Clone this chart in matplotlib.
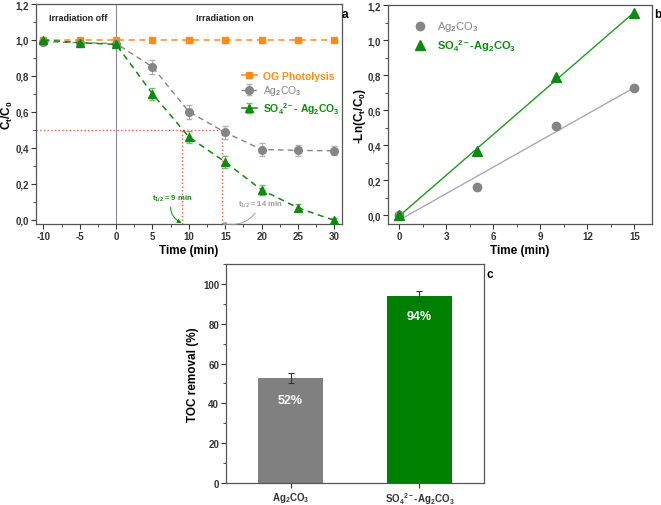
import matplotlib
matplotlib.use("Agg")
import matplotlib.pyplot as plt
import numpy as np
from matplotlib.ticker import MultipleLocator, FuncFormatter

plt.rcParams['font.family'] = ['Liberation Sans', 'DejaVu Sans']
plt.rcParams['font.size'] = 7
plt.rcParams['font.weight'] = 'bold'
plt.rcParams['axes.unicode_minus'] = False
plt.rcParams['mathtext.fontset'] = 'custom'
plt.rcParams['mathtext.rm'] = 'Liberation Sans'
plt.rcParams['mathtext.bf'] = 'Liberation Sans:bold'
plt.rcParams['mathtext.it'] = 'Liberation Sans:italic'
plt.rcParams['mathtext.default'] = 'bf'

# ---------- data ----------
time_a = [-10, -5, 0, 5, 10, 15, 20, 25, 30]
og_photolysis = [1.0, 1.0, 1.0, 1.0, 1.0, 1.0, 1.0, 1.0, 1.0]
ag2co3 = [0.99, 0.985, 0.98, 0.85, 0.60, 0.485, 0.39, 0.385, 0.383]
ag2co3_err = [0.01, 0.01, 0.015, 0.04, 0.04, 0.035, 0.035, 0.03, 0.025]
so4_ag2co3 = [1.0, 0.985, 0.975, 0.70, 0.46, 0.32, 0.165, 0.065, -0.005]
so4_err = [0.01, 0.01, 0.015, 0.035, 0.035, 0.035, 0.03, 0.02, 0.015]
t_half_so4 = 9
t_half_ag = 14.5

time_b = [0, 5, 10, 15]
ln_ag2co3 = [0.0, 0.164, 0.512, 0.726]
ln_so4 = [0.0, 0.367, 0.789, 1.154]

toc_labels = [r"Ag$_2$CO$_3$", r"SO$_4$$^{2-}$-Ag$_2$CO$_3$"]
toc_values = [52.7, 93.9]
toc_err = [2.5, 2.7]
toc_text = ["52%", "94%"]

orange = '#ff8c1a'
gray = '#858585'
green = '#0f8a0f'
red = '#f0603a'

comma = FuncFormatter(lambda v, p: f"{v:.1f}".replace('.', ','))

fig = plt.figure(figsize=(6.61, 5.06), dpi=100)

def style(ax):
    for s in ax.spines.values():
        s.set_color('#555555')
        s.set_linewidth(0.9)
    ax.tick_params(which='both', direction='out', top=False, right=False, colors='#333333')
    ax.tick_params(which='major', length=3.5, width=0.8, labelsize=7, pad=1.5)
    ax.tick_params(which='minor', length=2, width=0.6)

# ---------- panel a ----------
axa = fig.add_axes([0.0545, 0.5553, 0.4625, 0.4347])
axa.axvline(0, color='#8a8a9a', lw=0.8, zorder=1)
axa.plot([-11, t_half_ag], [0.5, 0.5], ls=':', color=red, lw=1.0, zorder=1)
axa.plot([t_half_so4, t_half_so4], [-0.025, 0.5], ls=':', color=red, lw=1.0, zorder=1)
axa.plot([t_half_ag, t_half_ag], [-0.025, 0.5], ls=':', color=red, lw=1.0, zorder=1)

axa.plot(time_a, og_photolysis, ls='--', color=orange, marker='s', ms=5, lw=1.1,
         dashes=(4, 3), label='OG Photolysis', zorder=3)
axa.errorbar(time_a, ag2co3, yerr=ag2co3_err, ls='--', color=gray, marker='o', ms=5.5,
             lw=1.0, dashes=(4, 3), ecolor='#b0b0b0', elinewidth=0.8, capsize=2.5,
             label=r"Ag$_2$CO$_3$", zorder=3)
axa.errorbar(time_a, so4_ag2co3, yerr=so4_err, ls='--', color=green, marker='^', ms=6,
             lw=1.1, dashes=(4, 3), ecolor='#6cc06c', elinewidth=0.8, capsize=2.5,
             label=r"SO$_4$$^{2-}$- Ag$_2$CO$_3$", zorder=4)

axa.set_xlim(-11, 31)
axa.set_ylim(-0.025, 1.2)
axa.xaxis.set_major_locator(MultipleLocator(5))
axa.xaxis.set_minor_locator(MultipleLocator(2.5))
axa.yaxis.set_major_locator(MultipleLocator(0.2))
axa.yaxis.set_minor_locator(MultipleLocator(0.1))
axa.yaxis.set_major_formatter(comma)
axa.set_xlabel('Time (min)', fontsize=8.5, fontweight='bold', labelpad=2)
axa.set_ylabel(r"C$_t$/C$_0$", fontsize=8.5, fontweight='bold', ha='center', va='center')
axa.yaxis.set_label_coords(-0.095, 0.5)
axa.text(-5.2, 1.125, 'Irradiation off', ha='center', va='center', fontsize=6.5, fontweight='bold', color='#222222')
axa.text(15, 1.125, 'Irradiation on', ha='center', va='center', fontsize=6.5, fontweight='bold', color='#222222')
leg = axa.legend(loc='upper left', bbox_to_anchor=(0.64, 0.74), frameon=False, fontsize=7.5,
                 handlelength=1.6, handletextpad=0.5, labelspacing=0.25)
for t, c in zip(leg.get_texts(), [orange, gray, green]):
    t.set_color(c)
leg.get_texts()[1].set_fontweight('normal')
axa.annotate(r"t$_{1/2}$ = 9 min", xy=(t_half_so4, -0.02), xytext=(5.0, 0.11), fontsize=5.5,
             color=green, fontweight='bold',
             arrowprops=dict(arrowstyle='-|>', color=green, lw=0.7,
                             connectionstyle='arc3,rad=0.45', shrinkA=1, shrinkB=0,
                             mutation_scale=6))
axa.annotate(r"t$_{1/2}$ = 14 min", xy=(t_half_ag, -0.02), xytext=(16.8, 0.075), fontsize=5.5,
             color='#9a9a9a', fontweight='bold',
             arrowprops=dict(arrowstyle='-|>', color='#9a9a9a', lw=0.7,
                             connectionstyle='arc3,rad=-0.4', shrinkA=1, shrinkB=0,
                             mutation_scale=6))
style(axa)
fig.text(345/661, 1 - 15/506, 'a', fontsize=8.5, fontweight='bold', ha='center', va='center')

# ---------- panel b ----------
axb = fig.add_axes([0.587, 0.5553, 0.399, 0.4327])
tb = np.array(time_b, dtype=float)
p_ag = np.polyfit(tb, ln_ag2co3, 1)
p_so = np.polyfit(tb, ln_so4, 1)
xx = np.array([tb.min(), tb.max()])
axb.plot(xx, np.polyval(p_ag, xx), color='#a8a8b8', lw=1.0, zorder=2)
axb.plot(xx, np.polyval(p_so, xx), color='#1f9a1f', lw=1.0, zorder=2)
axb.plot(tb, ln_ag2co3, ls='none', marker='o', ms=6, color=gray, label=r"Ag$_2$CO$_3$", zorder=3)
axb.plot(tb, ln_so4, ls='none', marker='^', ms=6.5, color=green, label=r"SO$_4$$^{2-}$-Ag$_2$CO$_3$", zorder=3)
axb.set_xlim(-0.7, 16.1)
axb.set_ylim(-0.05, 1.2)
axb.xaxis.set_major_locator(MultipleLocator(3))
axb.xaxis.set_minor_locator(MultipleLocator(1.5))
axb.yaxis.set_major_locator(MultipleLocator(0.2))
axb.yaxis.set_minor_locator(MultipleLocator(0.1))
axb.yaxis.set_major_formatter(comma)
axb.set_xlabel('Time (min)', fontsize=8.5, fontweight='bold', labelpad=2)
axb.set_ylabel(r"-Ln(C$_t$/C$_0$)", fontsize=8.5, fontweight='bold', ha='center', va='center')
axb.yaxis.set_label_coords(-0.108, 0.5)
legb = axb.legend(loc='upper left', bbox_to_anchor=(0.05, 0.98), frameon=False, fontsize=8,
                  handlelength=1.5, handletextpad=0.8, labelspacing=0.3)
for t, c in zip(legb.get_texts(), [gray, green]):
    t.set_color(c)
legb.get_texts()[0].set_fontweight('normal')
style(axb)
fig.text(658/661, 1 - 15/506, 'b', fontsize=8.5, fontweight='bold', ha='center', va='center')

# ---------- panel c ----------
axc = fig.add_axes([0.342, 0.0435, 0.390, 0.4328])
xc = np.arange(1, len(toc_values) + 1)
axc.bar(xc, toc_values, width=0.5, color=['#808080', '#008000'], zorder=2)
axc.errorbar(xc, toc_values, yerr=toc_err, ls='none', ecolor='#333333', elinewidth=0.8,
             capsize=2.5, capthick=0.8, zorder=3)
for x, v, t in zip(xc, [41.5, 83.8], toc_text):
    axc.text(x, v, t, ha='center', va='center', color='white', fontsize=9, fontweight='bold', zorder=4)
axc.set_xlim(0.5, 2.5)
axc.set_ylim(0, 110)
axc.set_xticks(xc)
axc.set_xticklabels(toc_labels)
axc.yaxis.set_major_locator(MultipleLocator(20))
axc.yaxis.set_minor_locator(MultipleLocator(10))
axc.set_ylabel('TOC removal (%)', fontsize=8.5, fontweight='bold', labelpad=3)
style(axc)
axc.tick_params(axis='x', which='major', pad=1.5)
axc.tick_params(axis='x', which='minor', bottom=False)
fig.text(490/661, 1 - 275/506, 'c', fontsize=8.5, fontweight='bold', ha='center', va='center')

fig.savefig('out.png', dpi=100)
